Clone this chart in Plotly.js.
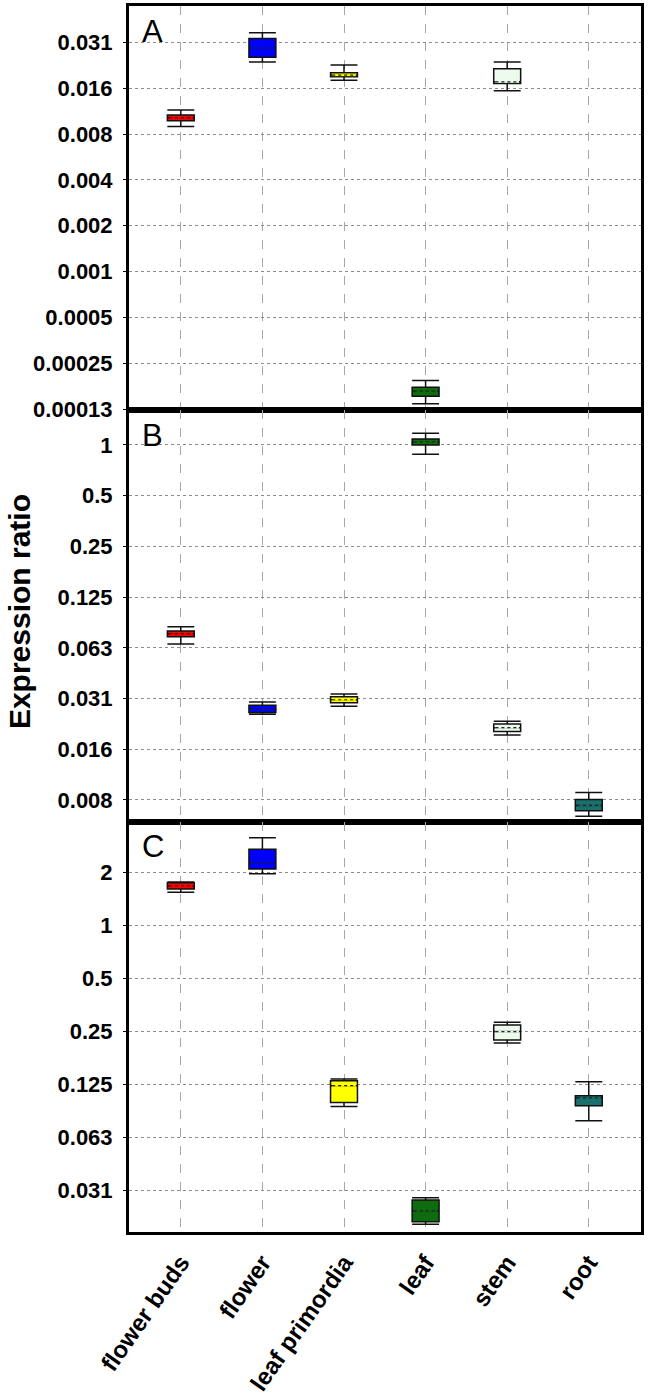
<!DOCTYPE html>
<html>
<head>
<meta charset="utf-8">
<script src="https://cdn.plot.ly/plotly-3.0.1.min.js"></script>
<style>html,body{margin:0;padding:0;background:#fff;}</style>
</head>
<body>
<div id="chart" style="width:652px;height:1397px;"></div>
<script>
// ---- data ----
const categories = ["flower buds", "flower", "leaf primordia", "leaf", "stem", "root"];
const fillColors = ["#ff0000", "#0000ff", "#ffff00", "#0e6b0e", "#ecfbec", "#19706c"];

// Panel A
const A_upper  = [0.01124, 0.03611, 0.02217, 0.0001881, 0.02321, null];
const A_q3     = [0.01042, 0.03317, 0.01972, 0.0001700, 0.02097, null];
const A_median = [0.01000, 0.02865, 0.01904, 0.0001600, 0.01720, null];
const A_q1     = [0.00956, 0.02491, 0.01861, 0.0001483, 0.01679, null];
const A_lower  = [0.00874, 0.02321, 0.01765, 0.0001321, 0.01502, null];

// Panel B
const B_upper  = [0.0834, 0.02981, 0.03321, 1.173, 0.02294, 0.00865];
const B_q3     = [0.0786, 0.02855, 0.03204, 1.085, 0.02203, 0.00787];
const B_median = [0.0758, 0.02701, 0.03074, 1.042, 0.02097, 0.00725];
const B_q1     = [0.0727, 0.02582, 0.02950, 1.000, 0.01989, 0.00674];
const B_lower  = [0.0659, 0.02522, 0.02815, 0.881, 0.01901, 0.00626];

// Panel C
const C_upper  = [1.762, 3.143, 0.1345, 0.02853, 0.2822, 0.1298];
const C_q3     = [1.746, 2.700, 0.1315, 0.02768, 0.2722, 0.1081];
const C_median = [1.672, 2.267, 0.1232, 0.02403, 0.2496, 0.1051];
const C_q1     = [1.608, 2.088, 0.0989, 0.02086, 0.2238, 0.0949];
const C_lower  = [1.540, 1.964, 0.0937, 0.02017, 0.2151, 0.0780];

// tick values / labels
const A_tickvals = [0.03125, 0.015625, 0.0078125, 0.00390625, 0.001953125, 0.0009765625, 0.00048828125, 0.000244140625, 0.0001220703125];
const A_ticktext = ["0.031", "0.016", "0.008", "0.004", "0.002", "0.001", "0.0005", "0.00025", "0.00013"];
const B_tickvals = [1, 0.5, 0.25, 0.125, 0.0625, 0.03125, 0.015625, 0.0078125];
const B_ticktext = ["1", "0.5", "0.25", "0.125", "0.063", "0.031", "0.016", "0.008"];
const C_tickvals = [2, 1, 0.5, 0.25, 0.125, 0.0625, 0.03125];
const C_ticktext = ["2", "1", "0.5", "0.25", "0.125", "0.063", "0.031"];
const panelLabels = ["A", "B", "C"];

// ---- build ----
const FONT = "Liberation Sans, Arial, Helvetica, sans-serif";
const boxWidth = 0.33;
const panels = [
  {up: A_upper, q3: A_q3, med: A_median, q1: A_q1, lo: A_lower, xa: "x",  ya: "y"},
  {up: B_upper, q3: B_q3, med: B_median, q1: B_q1, lo: B_lower, xa: "x2", ya: "y2"},
  {up: C_upper, q3: C_q3, med: C_median, q1: C_q1, lo: C_lower, xa: "x3", ya: "y3"}
];

const traces = [];
panels.forEach(p => {
  categories.forEach((c, i) => {
    if (p.med[i] === null) return;
    traces.push({
      type: "box", x: [i], xaxis: p.xa, yaxis: p.ya,
      q1: [p.q1[i]], median: [p.med[i]], q3: [p.q3[i]],
      lowerfence: [p.lo[i]], upperfence: [p.up[i]],
      width: boxWidth, whiskerwidth: 1, boxpoints: false,
      fillcolor: fillColors[i], line: {color: "#111", width: 1.5},
      hoverinfo: "skip", showlegend: false
    });
  });
  // dotted medians: first cover the solid median with fill color, then draw dotted
  categories.forEach((c, i) => {
    if (p.med[i] === null) return;
    const xs = [i - boxWidth / 2 + 0.02, i + boxWidth / 2 - 0.02];
    traces.push({
      type: "scatter", mode: "lines", x: xs, y: [p.med[i], p.med[i]],
      xaxis: p.xa, yaxis: p.ya, line: {color: fillColors[i], width: 2},
      hoverinfo: "skip", showlegend: false
    });
    traces.push({
      type: "scatter", mode: "lines", x: xs, y: [p.med[i], p.med[i]],
      xaxis: p.xa, yaxis: p.ya, line: {color: "#222", width: 1.2, dash: "dot"},
      hoverinfo: "skip", showlegend: false
    });
  });
});

const xbase = {
  range: [-0.635, 5.64], tickvals: [0, 1, 2, 3, 4, 5], ticktext: categories,
  showgrid: true, gridcolor: "#a8a8a8", gridwidth: 1, griddash: "dash",
  showline: true, mirror: true, linecolor: "#000", linewidth: 3,
  zeroline: false, ticks: "", fixedrange: true
};
const ybase = {
  type: "log", showgrid: true, gridcolor: "#8c8c8c", gridwidth: 1, griddash: "dot",
  showline: true, mirror: true, linecolor: "#000", linewidth: 3,
  zeroline: false, ticks: "outside", ticklen: 3, tickcolor: "#000", tickwidth: 1,
  ticklabelstandoff: 6,
  tickfont: {family: FONT, size: 22, color: "#000", weight: "bold"}
};

const layout = {
  width: 652, height: 1397,
  margin: {l: 129, r: 11, t: 6, b: 165},
  paper_bgcolor: "#fff", plot_bgcolor: "#fff",
  showlegend: false,
  xaxis:  Object.assign({}, xbase, {domain: [0, 1], anchor: "y",  showticklabels: false}),
  xaxis2: Object.assign({}, xbase, {domain: [0, 1], anchor: "y2", showticklabels: false}),
  xaxis3: Object.assign({}, xbase, {domain: [0, 1], anchor: "y3", showticklabels: true,
           tickangle: -55, ticklabelstandoff: 4,
           tickfont: {family: FONT, size: 24, color: "#000", weight: "bold"}}),
  yaxis:  Object.assign({}, ybase, {domain: [0.6705, 1], anchor: "x",  range: [-3.9194, -1.2664],
           tickvals: A_tickvals, ticktext: A_ticktext}),
  yaxis2: Object.assign({}, ybase, {domain: [0.3347, 0.6705], anchor: "x2", range: [-2.2361, 0.2078],
           tickvals: B_tickvals, ticktext: B_ticktext}),
  yaxis3: Object.assign({}, ybase, {domain: [0, 0.3347], anchor: "x3", range: [-1.7394, 0.5879],
           tickvals: C_tickvals, ticktext: C_ticktext}),
  annotations: [
    {text: panelLabels[0], xref: "x domain", yref: "y domain", x: 0.022, y: 0.985, xanchor: "left", yanchor: "top",
     showarrow: false, font: {family: FONT, size: 31, color: "#000"}},
    {text: panelLabels[1], xref: "x2 domain", yref: "y2 domain", x: 0.022, y: 0.985, xanchor: "left", yanchor: "top",
     showarrow: false, font: {family: FONT, size: 31, color: "#000"}},
    {text: panelLabels[2], xref: "x3 domain", yref: "y3 domain", x: 0.022, y: 0.988, xanchor: "left", yanchor: "top",
     showarrow: false, font: {family: FONT, size: 31, color: "#000"}},
    {text: "Expression ratio", xref: "paper", yref: "paper", x: -0.214, y: 0.506,
     xanchor: "center", yanchor: "middle", textangle: -90, showarrow: false,
     font: {family: FONT, size: 30, color: "#000", weight: "bold"}}
  ]
};

Plotly.newPlot("chart", traces, layout, {staticPlot: true, displayModeBar: false});
</script>
</body>
</html>
